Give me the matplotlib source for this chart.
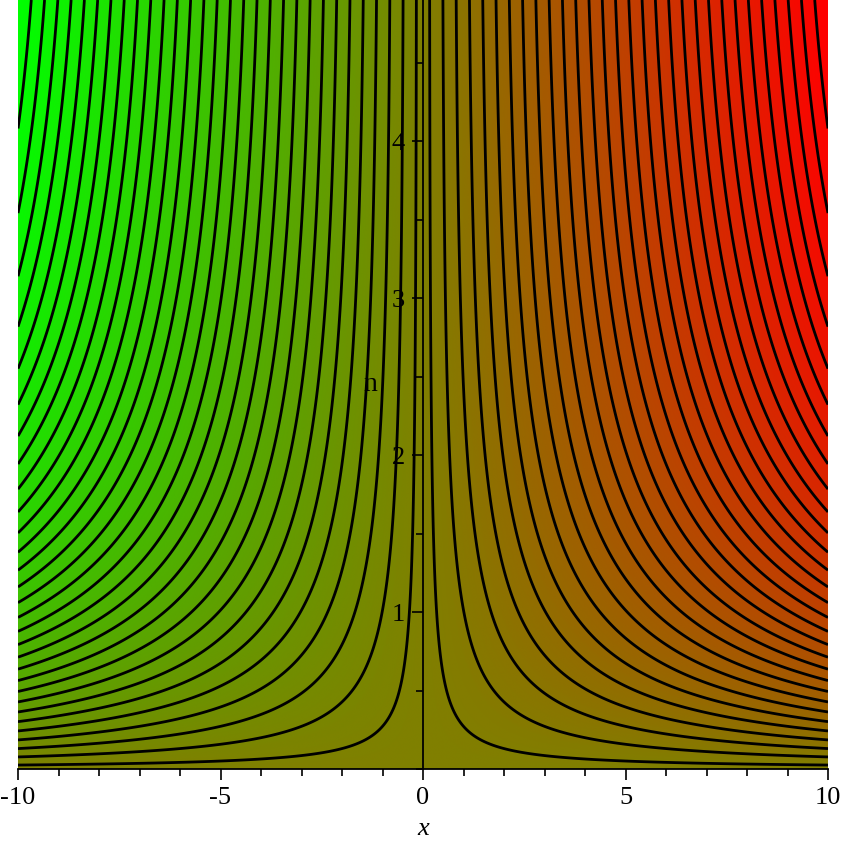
import numpy as np
import matplotlib
matplotlib.use('Agg')
import matplotlib.pyplot as plt
from matplotlib.colors import LinearSegmentedColormap
from matplotlib.ticker import MultipleLocator

# ---- data / function definition ----
x_range = (-10.0, 10.0)
n_range = (0.0, 4.9)
decay_scale = 1.6          # f(x, n) = x * (1 - exp(-n / decay_scale))
n_contours = 60
x_ticks = [-10, -5, 0, 5, 10]
x_tick_labels = ['-10', '-5', '0', '5', '10']
n_ticks = [1, 2, 3, 4]
n_tick_labels = ['1', '2', '3', '4']
low_color = '#00ff00'
high_color = '#ff0000'

x = np.linspace(x_range[0], x_range[1], 1201)
n = np.linspace(n_range[0], n_range[1], 1201)
X, N = np.meshgrid(x, n)
F = X * (1.0 - np.exp(-N / decay_scale))
fmin, fmax = F.min(), F.max()
levels = np.linspace(fmin, fmax, n_contours + 2)[1:-1]

cmap = LinearSegmentedColormap.from_list('gr', [low_color, high_color])

plt.rcParams['font.family'] = ['Liberation Serif', 'DejaVu Serif']

fig = plt.figure(figsize=(8.43, 8.41), dpi=100)
ax = fig.add_axes([18 / 843, 72 / 841, 810 / 843, 769 / 841])

ax.imshow(F, extent=[x_range[0], x_range[1], n_range[0], n_range[1]],
          origin='lower', cmap=cmap, vmin=fmin, vmax=fmax,
          aspect='auto', interpolation='bilinear')
ax.contour(X, N, F, levels=levels, colors='black', linewidths=2.0,
           linestyles='solid')

ax.set_xlim(*x_range)
ax.set_ylim(*n_range)

for s in ['top', 'right']:
    ax.spines[s].set_visible(False)
ax.spines['left'].set_position(('data', 0))
ax.spines['bottom'].set_position(('data', 0))
for s in ['left', 'bottom']:
    ax.spines[s].set_linewidth(1.3)
    ax.spines[s].set_zorder(5)

ax.set_xticks(x_ticks)
ax.set_xticklabels(x_tick_labels)
ax.set_yticks(n_ticks)
ax.set_yticklabels(n_tick_labels)
ax.xaxis.set_minor_locator(MultipleLocator(1))
ax.yaxis.set_minor_locator(MultipleLocator(0.5))
ax.tick_params(which='major', direction='out', length=8, width=1.2,
               labelsize=19, pad=5)
ax.tick_params(which='minor', direction='out', length=5, width=1.2)

ax.set_xlabel('x', fontsize=19, style='italic', va='center')
ax.xaxis.set_label_coords(0.5, -0.078)
ax.set_ylabel('n', fontsize=20, rotation=0, va='center', ha='center')
ax.yaxis.set_label_coords(-1.3, 2.45, transform=ax.transData)

fig.savefig('out.png', dpi=100)
